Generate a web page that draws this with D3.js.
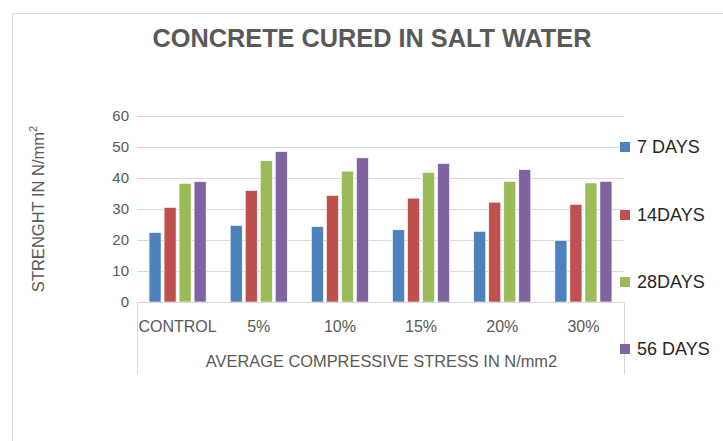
<!DOCTYPE html>
<html>
<head>
<meta charset="utf-8">
<script src="https://cdn.jsdelivr.net/npm/d3@7"></script>
<style>
  html, body { margin: 0; padding: 0; background: #fff; }
  svg { display: block; }
</style>
</head>
<body>
<svg id="chart" width="723" height="441"></svg>
<script>
const categories = ["CONTROL", "5%", "10%", "15%", "20%", "30%"];
const seriesNames = ["7 DAYS", "14DAYS", "28DAYS", "56 DAYS"];
const days7  = [22.4, 24.7, 24.3, 23.3, 22.8, 19.9];
const days14 = [30.5, 36.0, 34.4, 33.5, 32.2, 31.5];
const days28 = [38.3, 45.6, 42.2, 41.8, 38.9, 38.4];
const days56 = [38.8, 48.5, 46.5, 44.7, 42.7, 38.9];
const yTicks = [0, 10, 20, 30, 40, 50, 60];
const colors = ["#4F81BD", "#C0504D", "#9BBB59", "#8064A2"];

const seriesValues = [days7, days14, days28, days56];

const svg = d3.select("#chart");
const font = "'Liberation Sans', Arial, sans-serif";

// chart frame
svg.append("path")
  .attr("d", "M12.5,441 L12.5,13.5 L723,13.5")
  .attr("fill", "none").attr("stroke", "#d9d9d9").attr("stroke-width", 1);

const plot = { left: 137, right: 624, top: 116, bottom: 302 };

const x0 = d3.scaleBand().domain(categories).range([plot.left, plot.right]).padding(0);
const x1 = d3.scaleBand().domain(seriesNames)
  .range([x0.bandwidth() * 0.13, x0.bandwidth() * 0.87])
  .paddingInner(0.2).paddingOuter(0.1);
const y = d3.scaleLinear().domain([0, 60]).range([plot.bottom, plot.top]);

// gridlines
svg.append("g").selectAll("line").data(yTicks.filter(d => d > 0)).join("line")
  .attr("x1", plot.left).attr("x2", plot.right)
  .attr("y1", d => Math.round(y(d)) + 0.5).attr("y2", d => Math.round(y(d)) + 0.5)
  .attr("stroke", "#d9d9d9").attr("stroke-width", 1);

// y tick labels via axis
const yAxis = svg.append("g")
  .attr("transform", `translate(${plot.left - 8},0)`)
  .call(d3.axisLeft(y).tickValues(yTicks).tickSize(0).tickPadding(0));
yAxis.select(".domain").remove();
yAxis.selectAll("text")
  .attr("font-family", font).attr("font-size", 15).attr("fill", "#595959");

// bars
const groups = svg.append("g").selectAll("g").data(categories).join("g")
  .attr("transform", d => `translate(${x0(d)},0)`);
groups.selectAll("rect")
  .data((c, i) => seriesNames.map((s, j) => ({ s, j, v: seriesValues[j][i] })))
  .join("rect")
  .attr("x", d => x1(d.s))
  .attr("width", x1.bandwidth())
  .attr("y", d => y(d.v))
  .attr("height", d => y(0) - y(d.v))
  .attr("fill", d => colors[d.j])
  .attr("stroke", "#ffffff").attr("stroke-width", 0.6);

// x axis box
const axisBottom = 374;
svg.append("path")
  .attr("d", `M${plot.left + 0.5},${axisBottom} L${plot.left + 0.5},${plot.bottom + 0.5} L${plot.right + 0.5},${plot.bottom + 0.5} L${plot.right + 0.5},${axisBottom}`)
  .attr("fill", "none").attr("stroke", "#d9d9d9").attr("stroke-width", 1);

const xAxis = svg.append("g")
  .attr("transform", `translate(0,${plot.bottom})`)
  .call(d3.axisBottom(x0).tickSize(0).tickPadding(0));
xAxis.select(".domain").remove();
xAxis.selectAll("text")
  .attr("y", 24).attr("dy", "0.35em")
  .attr("font-family", font).attr("font-size", 16).attr("fill", "#595959");

// x axis title
svg.append("text")
  .attr("x", (plot.left + plot.right) / 2 + 1).attr("y", 361).attr("dy", "0.35em")
  .attr("text-anchor", "middle")
  .attr("font-family", font).attr("font-size", 16.4).attr("fill", "#595959")
  .text("AVERAGE COMPRESSIVE STRESS IN N/mm2");

// y axis title
const yt = svg.append("text")
  .attr("transform", "translate(38,209) rotate(-90)")
  .attr("text-anchor", "middle").attr("dy", "0.35em")
  .attr("font-family", font).attr("font-size", 16.5).attr("fill", "#595959");
yt.append("tspan").text("STRENGHT  IN N/mm");
yt.append("tspan").attr("font-size", 11).attr("dy", "-0.6em").text("2");

// title
svg.append("text")
  .attr("x", 372).attr("y", 38).attr("dy", "0.35em")
  .attr("text-anchor", "middle")
  .attr("font-family", font).attr("font-weight", "bold").attr("font-size", 25.3)
  .attr("fill", "#595959")
  .text("CONCRETE CURED IN SALT WATER");

// legend
const legendY = [147, 215, 282, 349];
const legend = svg.append("g").selectAll("g").data(seriesNames).join("g")
  .attr("transform", (d, i) => `translate(620,${legendY[i]})`);
legend.append("rect")
  .attr("x", 0).attr("y", -5).attr("width", 10).attr("height", 10)
  .attr("fill", (d, i) => colors[i]);
legend.append("text")
  .attr("x", 17).attr("y", 0).attr("dy", "0.36em")
  .attr("font-family", font).attr("font-size", 18).attr("fill", "#262626")
  .text(d => d);
</script>
</body>
</html>
